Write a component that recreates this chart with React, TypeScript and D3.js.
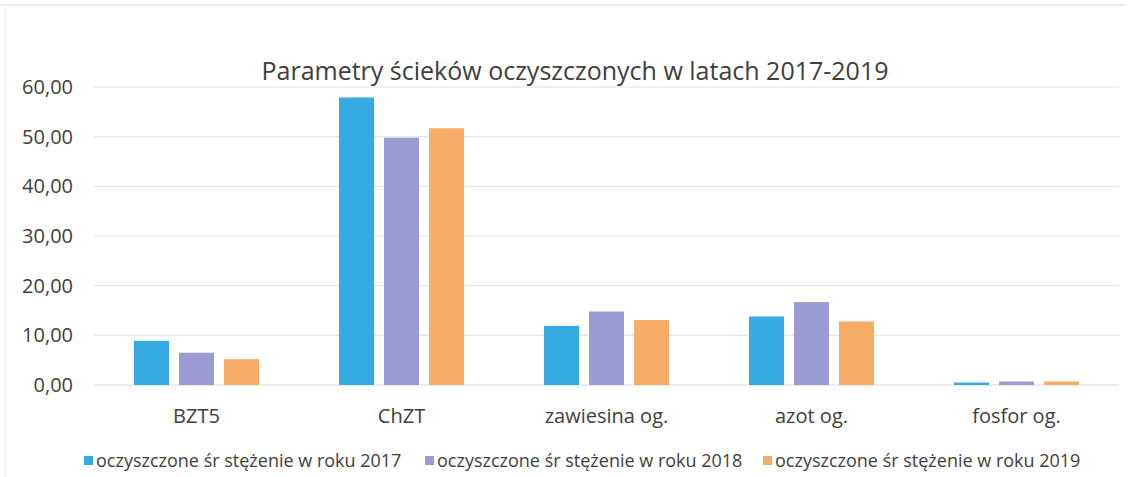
import React from "react";
import * as d3 from "d3";

const categories = ["BZT5", "ChZT", "zawiesina og.", "azot og.", "fosfor og."];
const seriesNames = [
  "oczyszczone śr stężenie w roku 2017",
  "oczyszczone śr stężenie w roku 2018",
  "oczyszczone śr stężenie w roku 2019",
];
const values2017 = [8.9, 57.9, 11.9, 13.8, 0.5];
const values2018 = [6.5, 49.8, 14.8, 16.7, 0.7];
const values2019 = [5.2, 51.7, 13.1, 12.8, 0.7];
const yTicks = [0, 10, 20, 30, 40, 50, 60];
const colors = ["#35ABE2", "#9C9AD3", "#F7AD68"];

const W = 1132;
const H = 477;
const FONT = "'Open Sans', Lato, sans-serif";

export default function App() {
  const series = [values2017, values2018, values2019];
  const x0 = d3.scaleBand<string>().domain(categories).range([94, 1119]).padding(0);
  const x1 = d3
    .scaleBand<number>()
    .domain([0, 1, 2])
    .range([-62.5, 62.5])
    .paddingInner(0.222)
    .paddingOuter(0);
  const y = d3.scaleLinear().domain([0, 60]).range([385, 87]);
  const fmt = (v: number) => d3.format(".2f")(v).replace(".", ",");

  const legendX = [84, 425, 763];

  return (
    <svg
      width={W}
      height={H}
      style={{ position: "absolute", left: 0, top: 0, display: "block", background: "#fff" }}
      fontFamily={FONT}
    >
      <rect x={0} y={0} width={W} height={H} fill="#fff" />
      <line x1={0} x2={1125} y1={5} y2={5} stroke="#ececec" strokeWidth={2} />
      <line x1={5} x2={5} y1={5} y2={477} stroke="#f3f3f3" strokeWidth={2} />
      <text x={575} y={80} textAnchor="middle" fontSize={25} fill="#404040">
        Parametry ścieków oczyszczonych w latach 2017-2019
      </text>
      {yTicks.map((t) => (
        <g key={t}>
          <line x1={94} x2={1119} y1={y(t)} y2={y(t)} stroke={t === 0 ? "#d9d9d9" : "#e6e6e6"} strokeWidth={1.2} />
          <text x={73} y={y(t) + 7} textAnchor="end" fontSize={20} fill="#404040">
            {fmt(t)}
          </text>
        </g>
      ))}
      {categories.map((c, ci) => {
        const cx = (x0(c) as number) + x0.bandwidth() / 2;
        return (
          <g key={c}>
            {series.map((s, si) => (
              <rect
                key={si}
                x={cx + (x1(si) as number)}
                y={y(s[ci])}
                width={x1.bandwidth()}
                height={y(0) - y(s[ci])}
                fill={colors[si]}
              />
            ))}
            <text x={cx} y={423} textAnchor="middle" fontSize={20} fill="#404040">
              {c}
            </text>
          </g>
        );
      })}
      {seriesNames.map((n, i) => (
        <g key={n}>
          <rect x={legendX[i]} y={456} width={9} height={9} fill={colors[i]} />
          <text x={legendX[i] + 12} y={467} fontSize={18} fill="#404040">
            {n}
          </text>
        </g>
      ))}
    </svg>
  );
}
